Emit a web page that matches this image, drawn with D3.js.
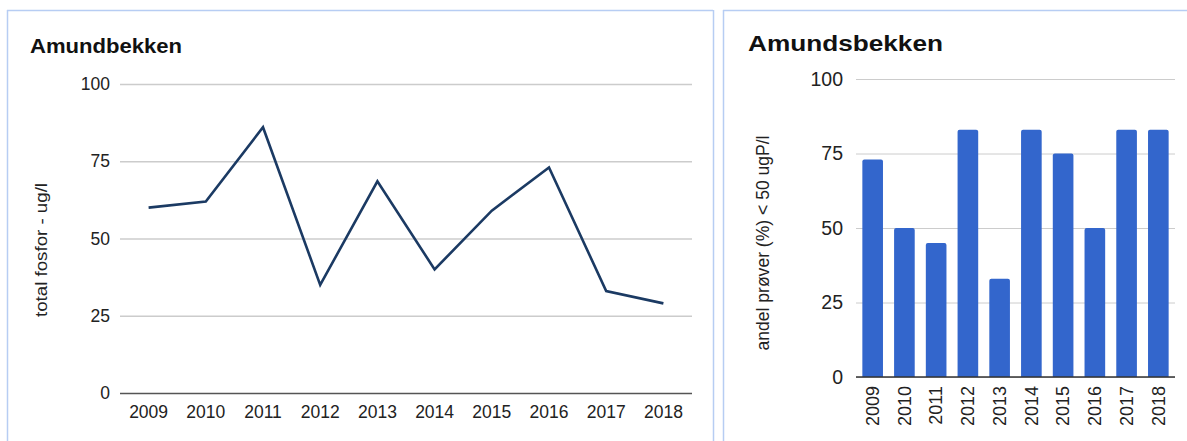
<!DOCTYPE html>
<html><head><meta charset="utf-8">
<script src="https://cdn.jsdelivr.net/npm/d3@7"></script>
<style>
html,body{margin:0;padding:0;background:#fff;}
svg{display:block;font-family:"Liberation Sans",Arial,sans-serif;}
</style></head>
<body>
<svg id="c" width="1187" height="441"></svg>
<script>
const years = ["2009","2010","2011","2012","2013","2014","2015","2016","2017","2018"];
const fosfor = [60, 62, 86, 35, 68.5, 40, 59, 73, 33, 29];
const andel = [73, 50, 45, 83, 33, 83, 75, 50, 83, 83];
const yTicks = [0, 25, 50, 75, 100];
const leftTitle = "Amundbekken";
const rightTitle = "Amundsbekken";
const leftYLabel = "total fosfor - ug/l";
const rightYLabel = "andel prøver (%) < 50 ugP/l";

const svg = d3.select("#c");
const FF = "Liberation Sans, Arial, sans-serif";

// panel borders
const bc = "#b7cdf3";
svg.append("line").attr("x1",7.5).attr("x2",7.5).attr("y1",10).attr("y2",441).attr("stroke",bc).attr("stroke-width",1.5);
svg.append("line").attr("x1",7).attr("x2",713).attr("y1",10.5).attr("y2",10.5).attr("stroke",bc).attr("stroke-width",1.5);
svg.append("line").attr("x1",713.5).attr("x2",713.5).attr("y1",10).attr("y2",441).attr("stroke",bc).attr("stroke-width",1.5);
svg.append("line").attr("x1",723.5).attr("x2",723.5).attr("y1",10).attr("y2",441).attr("stroke",bc).attr("stroke-width",1.5);
svg.append("line").attr("x1",723).attr("x2",1187).attr("y1",10.5).attr("y2",10.5).attr("stroke",bc).attr("stroke-width",1.5);

// ---------- Left line chart ----------
{
  const x = d3.scaleBand().domain(years).range([120, 692]);
  const y = d3.scaleLinear().domain([0,100]).range([393, 84]);
  const g = svg.append("g");
  g.append("text").attr("x",30).attr("y",53).attr("font-size",21).attr("font-weight","bold").attr("fill","#111")
    .attr("textLength",152).attr("lengthAdjust","spacingAndGlyphs").text(leftTitle);
  const ya = g.append("g").attr("transform","translate(120,0)")
    .call(d3.axisLeft(y).tickValues(yTicks).tickSize(-572).tickPadding(10));
  ya.select(".domain").remove();
  ya.selectAll(".tick line").attr("stroke",d=>d===0?"#555":"#ccc").attr("stroke-width",d=>d===0?1.5:1.3);
  ya.selectAll(".tick text").attr("font-size",17.5).attr("fill","#222").attr("font-family",FF);
  const xa = g.append("g").attr("transform","translate(0,393)").call(d3.axisBottom(x).tickSize(0).tickPadding(13));
  xa.select(".domain").remove();
  xa.selectAll(".tick text").attr("font-size",17.5).attr("fill","#222").attr("font-family",FF);
  g.append("text").attr("transform","translate(47,250) rotate(-90)").attr("text-anchor","middle")
    .attr("font-size",17).attr("fill","#222")
    .attr("textLength",134).attr("lengthAdjust","spacingAndGlyphs").text(leftYLabel);
  const line = d3.line().x((d,i)=>x(years[i])+x.bandwidth()/2).y(d=>y(d));
  g.append("path").datum(fosfor).attr("d",line).attr("fill","none").attr("stroke","#1b3a63").attr("stroke-width",2.6).attr("stroke-linejoin","miter");
}

// ---------- Right bar chart ----------
{
  const x = d3.scaleBand().domain(years).range([856, 1175]).paddingInner(0.35).paddingOuter(0.2);
  const y = d3.scaleLinear().domain([0,100]).range([377, 79]);
  const g = svg.append("g");
  g.append("text").attr("x",748).attr("y",51).attr("font-size",22).attr("font-weight","bold").attr("fill","#111")
    .attr("textLength",195).attr("lengthAdjust","spacingAndGlyphs").text(rightTitle);
  const ya = g.append("g").attr("transform","translate(856,0)")
    .call(d3.axisLeft(y).tickValues(yTicks).tickSize(-319).tickPadding(13));
  ya.select(".domain").remove();
  ya.selectAll(".tick line").attr("stroke","#ccc").attr("stroke-width",1);
  ya.selectAll(".tick text").attr("font-size",19.5).attr("fill","#222").attr("font-family",FF);
  g.append("text").attr("transform","translate(769,243) rotate(-90)").attr("text-anchor","middle")
    .attr("font-size",17.5).attr("fill","#222")
    .attr("textLength",215).attr("lengthAdjust","spacingAndGlyphs").text(rightYLabel);
  const r = 2;
  g.selectAll("path.bar").data(andel).join("path").attr("class","bar")
    .attr("fill","#3366cc")
    .attr("d",(d,i)=>{
      const x0 = x(years[i]), w = x.bandwidth(), y0 = y(d), y1 = y(0);
      return `M${x0},${y1}V${y0+r}Q${x0},${y0} ${x0+r},${y0}H${x0+w-r}Q${x0+w},${y0} ${x0+w},${y0+r}V${y1}Z`;
    });
  g.append("line").attr("x1",856).attr("x2",1175).attr("y1",377).attr("y2",377).attr("stroke","#333").attr("stroke-width",1.5);
  const xa = g.append("g").attr("transform","translate(0,377)").call(d3.axisBottom(x).tickSize(0));
  xa.select(".domain").remove();
  xa.selectAll(".tick text").attr("font-size",18).attr("fill","#222").attr("font-family",FF)
    .attr("transform","rotate(-90)").attr("text-anchor","end").attr("x",-9).attr("y",0).attr("dy","0.35em");
}
</script>
</body></html>
